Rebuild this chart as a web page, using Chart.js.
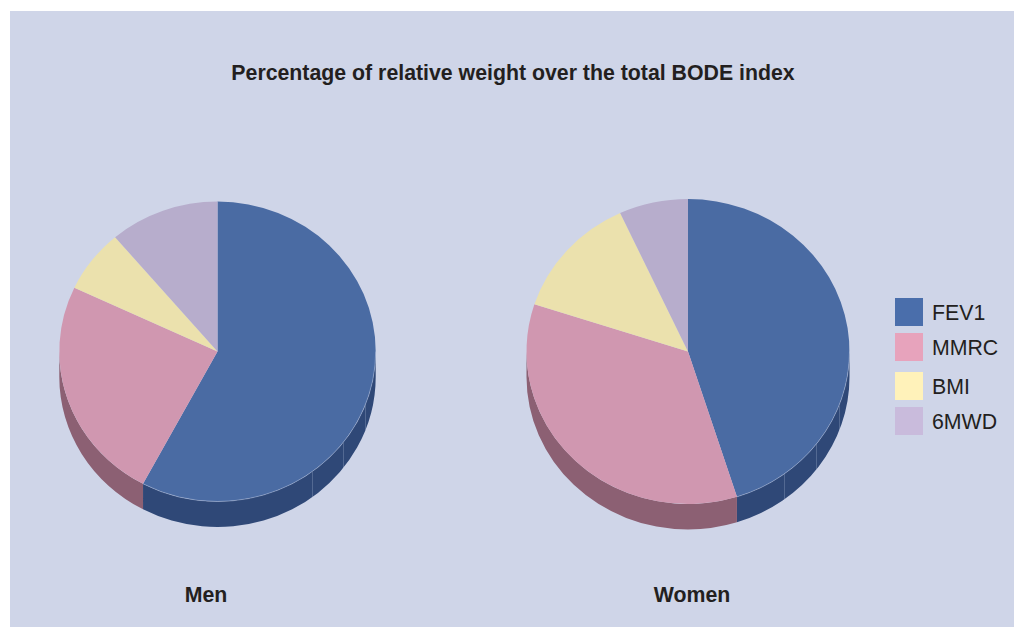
<!DOCTYPE html>
<html>
<head>
<meta charset="utf-8">
<title>BODE index</title>
<script src="https://cdn.jsdelivr.net/npm/chart.js@4"></script>
<style>
  html, body { margin: 0; padding: 0; background: #fff; }
  body { position: relative; width: 1014px; height: 627px; overflow: hidden; font-family: "Liberation Sans", Arial, sans-serif; color: #231f20; }
  #panel { position: absolute; left: 10px; top: 11px; width: 1004px; height: 616px; background: #cfd5e8; }
  canvas { position: absolute; }
  .heading { position: absolute; font-weight: bold; white-space: nowrap; transform: translateX(-50%); line-height: 24px; font-size: 21.3px; }
  .swatch { position: absolute; left: 895px; width: 28px; height: 28px; }
  .entry { position: absolute; left: 932px; margin-top: 1px; font-size: 21.3px; line-height: 28px; white-space: nowrap; }
</style>
</head>
<body>
<div id="panel"></div>
<canvas id="men" width="381" height="381" style="left:27px;top:161px"></canvas>
<canvas id="women" width="380" height="381" style="left:498px;top:161px"></canvas>
<div class="heading" style="left:513px;top:61px">Percentage of relative weight over the total BODE index</div>
<div class="heading" style="left:206px;top:583px">Men</div>
<div class="heading" style="left:692px;top:583px">Women</div>
<div id="legend"></div>
<script>
const categories = ['FEV1', 'MMRC', 'BMI', '6MWD'];
const menValues = [57.8, 24.2, 6.8, 11.2];
const womenValues = [45.1, 34.9, 13.1, 6.9];

const topColors = ['#4a6ba3', '#d097b0', '#ebe1ad', '#b7adcc'];
const wallColors = ['#2f4877', '#8c6073', '#97906e', '#766f85'];
const swatchColors = ['#4a6eab', '#e7a3bc', '#fff2ba', '#c9bbdc'];
const legendRows = [298, 333, 372, 407];

// Horizontal positions of the faint facet lines on the blue wall, as a share of the radius.
const facetShares = [0.595, 0.795, 0.935];

// Draws the pie as a tilted disc: the side wall first, then the flattened top face.
function tiltedDisc(squash, depth) {
  return {
    id: 'tiltedDisc',
    beforeDatasetDraw(chart, args) {
      const ctx = chart.ctx;
      const arcs = chart.getDatasetMeta(args.index).data;
      const cx = arcs[0].x, cy = arcs[0].y, rx = arcs[0].outerRadius, ry = rx * squash;
      ctx.save();
      arcs.forEach((arc, i) => {
        const s = Math.max(arc.startAngle, 0), e = Math.min(arc.endAngle, Math.PI);
        if (e <= s) return;
        ctx.beginPath();
        ctx.ellipse(cx, cy, rx, ry, 0, s, e);
        ctx.ellipse(cx, cy + depth, rx, ry, 0, e, s, true);
        ctx.closePath();
        ctx.fillStyle = wallColors[i];
        ctx.fill();
        if (i === 0) {
          ctx.strokeStyle = 'rgba(190,202,228,0.25)';
          ctx.lineWidth = 1;
          facetShares.forEach(share => {
            const a = Math.acos(share);
            if (a < s || a > e) return;
            const x = Math.round(cx + rx * share) + 0.5, y = cy + ry * Math.sin(a);
            ctx.beginPath();
            ctx.moveTo(x, y);
            ctx.lineTo(x, y + depth);
            ctx.stroke();
          });
        }
      });
      ctx.restore();
      ctx.save();
      ctx.translate(cx, cy);
      ctx.scale(1, squash);
      ctx.translate(-cx, -cy);
    },
    afterDatasetDraw(chart, args) {
      const ctx = chart.ctx;
      ctx.restore();
      // Light rim where the blue top face meets its wall
      const arcs = chart.getDatasetMeta(args.index).data;
      const arc = arcs[0], rx = arc.outerRadius, ry = rx * squash;
      const s = Math.max(arc.startAngle, 0), e = Math.min(arc.endAngle, Math.PI);
      ctx.save();
      ctx.beginPath();
      ctx.ellipse(arc.x, arc.y, rx, ry, 0, s, e);
      ctx.strokeStyle = 'rgba(190,202,228,0.55)';
      ctx.lineWidth = 0.8;
      ctx.stroke();
      ctx.restore();
    }
  };
}

function drawPie(id, values, radius, squash, depth) {
  return new Chart(document.getElementById(id), {
    type: 'pie',
    data: {
      labels: categories,
      datasets: [{ data: values, backgroundColor: topColors, borderWidth: 0, hoverOffset: 0 }]
    },
    options: {
      responsive: false,
      animation: false,
      radius: radius,
      layout: { padding: 0 },
      plugins: { legend: { display: false }, title: { display: false }, tooltip: { enabled: false } },
      events: []
    },
    plugins: [tiltedDisc(squash, depth)]
  });
}

drawPie('men', menValues, 158.2, 150 / 158.2, 25.5);
drawPie('women', womenValues, 161.5, 152.5 / 161.5, 25.5);

const legend = document.getElementById('legend');
categories.forEach((name, i) => {
  const swatch = document.createElement('div');
  swatch.className = 'swatch';
  swatch.style.top = legendRows[i] + 'px';
  swatch.style.background = swatchColors[i];
  const entry = document.createElement('div');
  entry.className = 'entry';
  entry.style.top = legendRows[i] + 'px';
  entry.textContent = name;
  legend.append(swatch, entry);
});
</script>
</body>
</html>
